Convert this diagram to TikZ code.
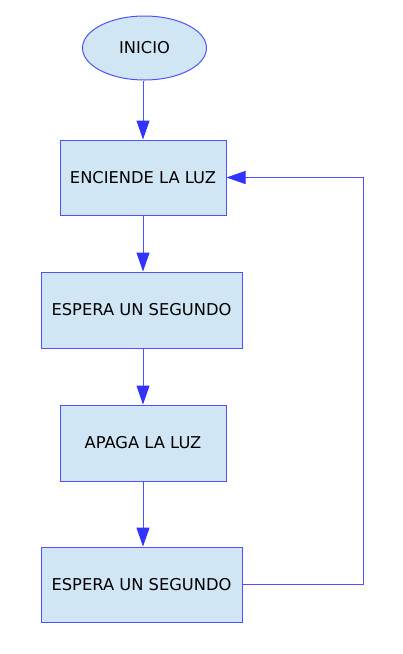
\documentclass[tikz,border=0pt]{standalone}
\usepackage{fontspec}
\setmainfont{DejaVu Sans}
\usetikzlibrary{shapes.geometric,arrows.meta}
\definecolor{lineblue}{RGB}{80,80,255}
\definecolor{arrowblue}{RGB}{51,51,255}
\definecolor{boxfill}{RGB}{208,230,245}
\begin{document}
\begin{tikzpicture}[x=1pt,y=-1pt,
  every node/.style={font=\fontsize{16.3}{19}\selectfont},
  procbox/.style={draw=lineblue,fill=boxfill,line width=1pt,inner sep=0pt},
  startnode/.style={ellipse,draw=lineblue,fill=boxfill,line width=1pt,inner sep=0pt,minimum width=124pt,minimum height=64pt},
  conn/.style={draw=lineblue,line width=1pt},
  arr/.style={conn,-{Triangle[length=19pt,width=13pt,fill=arrowblue,color=arrowblue]}}]
\useasboundingbox (0,0) rectangle (403,654);
\node[startnode] (e) at (144.5,48) {INICIO};
\node[procbox,minimum width=166pt,minimum height=75pt] (b1) at (143,177.5) {ENCIENDE LA LUZ};
\node[procbox,minimum width=201pt,minimum height=76pt] (b2) at (141.5,310) {ESPERA UN SEGUNDO};
\node[procbox,minimum width=166pt,minimum height=76pt] (b3) at (143,443) {APAGA LA LUZ};
\node[procbox,minimum width=201pt,minimum height=75pt] (b4) at (141.5,584.5) {ESPERA UN SEGUNDO};
\coordinate (c) at (363,584.5);
\draw[arr] (e.south -| b1) -- (b1.north);
\draw[arr] (b1.south) -- (b1.south |- b2.north);
\draw[arr] (b2.south -| b3) -- (b3.north);
\draw[arr] (b3.south) -- (b3.south |- b4.north);
\draw[arr] (b4.east) -- (b4.east -| c) |- (b1.east);
\end{tikzpicture}
\end{document}
